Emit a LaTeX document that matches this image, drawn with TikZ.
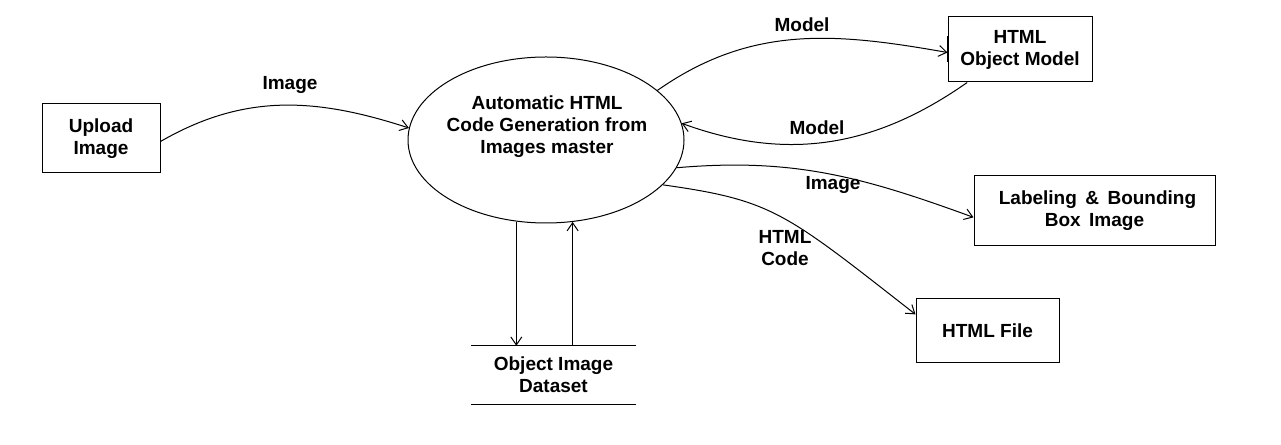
\documentclass[tikz,border=0pt]{standalone}
\usepackage{fontspec}
\setmainfont{Liberation Sans}
\usetikzlibrary{shapes.geometric,arrows.meta}

\begin{document}
\begin{tikzpicture}[x=1pt,y=1pt]
    \tikzstyle{every node}=[font=\bfseries\fontsize{19}{22}\selectfont, align=center, inner sep=0pt]
    \tikzstyle{box}=[draw, line width=1pt]
    \tikzstyle{flow}=[-{Straight Barb[length=8pt,width=11pt]}, line width=1pt]
    \useasboundingbox (0,0) rectangle (1281,444);
    % processes and entities
    \node[box, minimum width=118pt, minimum height=69pt] (upload) at (101,305.5) {Upload\\Image};
    \node[ellipse, draw, line width=1pt, minimum width=276pt, minimum height=166pt] (master) at (546,304) {};
    \node (mastertext) at (547,317) {Automatic HTML\\Code Generation from\\Images master};
    \node[box, minimum width=144pt, minimum height=65pt] (objmodel) at (1020,394.5) {HTML\\Object Model};
    \node[box, minimum width=241pt, minimum height=70pt] (labeling) at (1094.5,233) {\hspace{6pt}Labeling \,\& \,Bounding\\Box \,Image};
    \node[box, minimum width=143pt, minimum height=64pt] (htmlfile) at (987.5,113) {HTML File};
    \node[minimum width=165pt, minimum height=58pt] (dataset) at (553.5,69) {Object Image\\Dataset};
    \draw[line width=1pt] (dataset.north west) -- (dataset.north east);
    \draw[line width=1pt] (dataset.south west) -- (dataset.south east);
    \draw[line width=2pt] ([yshift=13pt]objmodel.west) -- ([yshift=-13pt]objmodel.west);
    % data flows
    \draw[flow] ([yshift=-3pt]upload.east) to[out=30,in=162] (master.175);
    \draw[flow] (master.24) to[out=35,in=170] ([yshift=-3pt]objmodel.west);
    \draw[flow] (objmodel.212) to[out=215,in=-20] (master.7);
    \draw[flow] (master.-12) to[out=5,in=160] (labeling.183);
    \draw[flow] (master.-21) to[out=-8,in=142,in looseness=1.5] (htmlfile.167);
    \draw[flow] (master.250) -- (master.250 |- dataset.north);
    \draw[flow] (master.288 |- dataset.north) -- (master.288);
    % flow labels
    \node (imgin) at (290,359) {Image};
    \node (modelout) at (802,419) {Model};
    \node (modelin) at (817,316) {Model};
    \node (imgout) at (833,259) {Image};
    \node (codeout) at (785,196) {HTML\\Code};
\end{tikzpicture}
\end{document}
